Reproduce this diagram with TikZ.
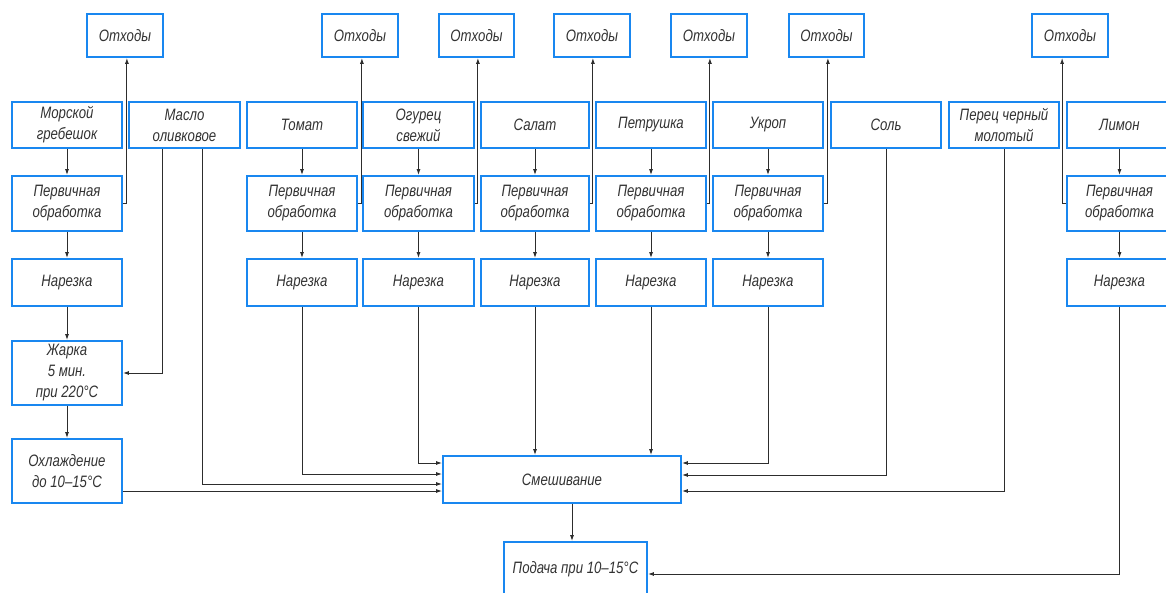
\documentclass[tikz,border=0pt]{standalone}
\usepackage{fontspec}
\setmainfont{Liberation Sans}[FakeStretch=0.8]
\usetikzlibrary{arrows.meta,calc}
\definecolor{bxblue}{RGB}{25,135,240}
\definecolor{txtc}{RGB}{50,50,50}
\definecolor{lnc}{RGB}{45,45,45}
\newcommand\mkbox[6]{%
 \pgfmathsetmacro\bxw{#4-#2}\pgfmathsetmacro\bxh{#5-#3}%
 \pgfmathsetmacro\bxcx{(#2+#4)/2}\pgfmathsetmacro\bxcy{(#3+#5)/2}%
 \node[box,minimum width=\bxw pt,minimum height=\bxh pt] (#1) at (\bxcx,\bxcy) {#6};}
\begin{document}
\begin{tikzpicture}[x=1pt,y=-1pt,
 box/.style={draw=bxblue,line width=1.8pt,inner sep=0pt,align=center,text=txtc,font=\fontsize{16.5}{21}\selectfont\itshape},
 arr/.style={draw=lnc,line width=1pt,-{Latex[length=6pt,width=4pt]}}]
\useasboundingbox (0,0) rectangle (1166,593);
% waste boxes
\mkbox{o1}{87}{14}{163}{57}{Отходы}
\mkbox{o2}{322}{14}{398}{57}{Отходы}
\mkbox{o3}{439}{14}{514}{57}{Отходы}
\mkbox{o4}{554}{14}{630}{57}{Отходы}
\mkbox{o5}{671}{14}{747}{57}{Отходы}
\mkbox{o6}{789}{14}{864}{57}{Отходы}
\mkbox{o7}{1032}{14}{1108}{57}{Отходы}
% ingredients
\mkbox{i1}{12}{102}{122}{148}{Морской\\гребешок}
\mkbox{i2}{129}{102}{240}{148}{Масло\\оливковое}
\mkbox{i3}{247}{102}{357}{148}{Томат}
\mkbox{i4}{363}{102}{474}{148}{Огурец\\свежий}
\mkbox{i5}{481}{102}{589}{148}{Салат}
\mkbox{i6}{596}{102}{706}{148}{Петрушка}
\mkbox{i7}{713}{102}{823}{148}{Укроп}
\mkbox{i8}{831}{102}{941}{148}{Соль}
\mkbox{i9}{949}{102}{1059}{148}{Перец черный\\молотый}
\mkbox{i10}{1067}{102}{1172}{148}{Лимон}
% primary processing
\mkbox{p1}{12}{176}{122}{231}{Первичная\\обработка}
\mkbox{p3}{247}{176}{357}{231}{Первичная\\обработка}
\mkbox{p4}{363}{176}{474}{231}{Первичная\\обработка}
\mkbox{p5}{481}{176}{589}{231}{Первичная\\обработка}
\mkbox{p6}{596}{176}{706}{231}{Первичная\\обработка}
\mkbox{p7}{713}{176}{823}{231}{Первичная\\обработка}
\mkbox{p10}{1067}{176}{1172}{231}{Первичная\\обработка}
% cutting
\mkbox{n1}{12}{259}{122}{306}{Нарезка}
\mkbox{n3}{247}{259}{357}{306}{Нарезка}
\mkbox{n4}{363}{259}{474}{306}{Нарезка}
\mkbox{n5}{481}{259}{589}{306}{Нарезка}
\mkbox{n6}{596}{259}{706}{306}{Нарезка}
\mkbox{n7}{713}{259}{823}{306}{Нарезка}
\mkbox{n10}{1067}{259}{1172}{306}{Нарезка}
% process
\mkbox{zh}{12}{341}{122}{405}{Жарка\\5 мин.\\при 220°C}
\mkbox{oh}{12}{439}{122}{503}{Охлаждение\\до 10–15°C}
\mkbox{mix}{443}{456}{681}{503}{Смешивание}
\mkbox{pod}{504}{542}{647}{597}{Подача при 10–15°C}
% vertical chains
\foreach \c in {1,3,4,5,6,7,10}{
 \draw[arr] (i\c) -- (p\c);
 \draw[arr] (p\c) -- (n\c);
}
\draw[arr] (n1) -- (zh);
\draw[arr] (zh) -- (oh);
% waste
\draw[arr] (p1.east) -- ++(4,0) coordinate (w1) -- (w1 |- o1.south);
\draw[arr] (p3.east) -- ++(4,0) coordinate (w3) -- (w3 |- o2.south);
\draw[arr] (p4.east) -- ++(3,0) coordinate (w4) -- (w4 |- o3.south);
\draw[arr] (p5.east) -- ++(3,0) coordinate (w5) -- (w5 |- o4.south);
\draw[arr] (p6.east) -- ++(3,0) coordinate (w6) -- (w6 |- o5.south);
\draw[arr] (p7.east) -- ++(4,0) coordinate (w7) -- (w7 |- o6.south);
\draw[arr] (p10.west) -- ++(-4,0) coordinate (w10) -- (w10 |- o7.south);
% oil
\draw[arr] ([xshift=-22.5pt]i2.south) |- (zh.east);
\draw[arr] ([xshift=17.5pt]i2.south) |- ([yshift=-4.5pt]mix.west);
% into mixing, left
\draw[arr] ([yshift=-20pt]oh.east) -- ([yshift=-11.5pt]mix.west);
\draw[arr] (n3.south) |- ([yshift=5.5pt]mix.west);
\draw[arr] (n4.south) |- ([yshift=16.5pt]mix.west);
% top
\draw[arr] (n5.south) -- (n5.south |- mix.north);
\draw[arr] (n6.south) -- (n6.south |- mix.north);
% right
\draw[arr] (n7.south) |- ([yshift=16.5pt]mix.east);
\draw[arr] (i8.south) |- ([yshift=4.5pt]mix.east);
\draw[arr] (i9.south) |- ([yshift=-11.5pt]mix.east);
% output
\draw[arr] ([xshift=10pt]mix.south) -- ([xshift=10pt]mix.south |- pod.north);
\draw[arr] (n10.south) |- ([yshift=-4.5pt]pod.east);
\end{tikzpicture}
\end{document}
